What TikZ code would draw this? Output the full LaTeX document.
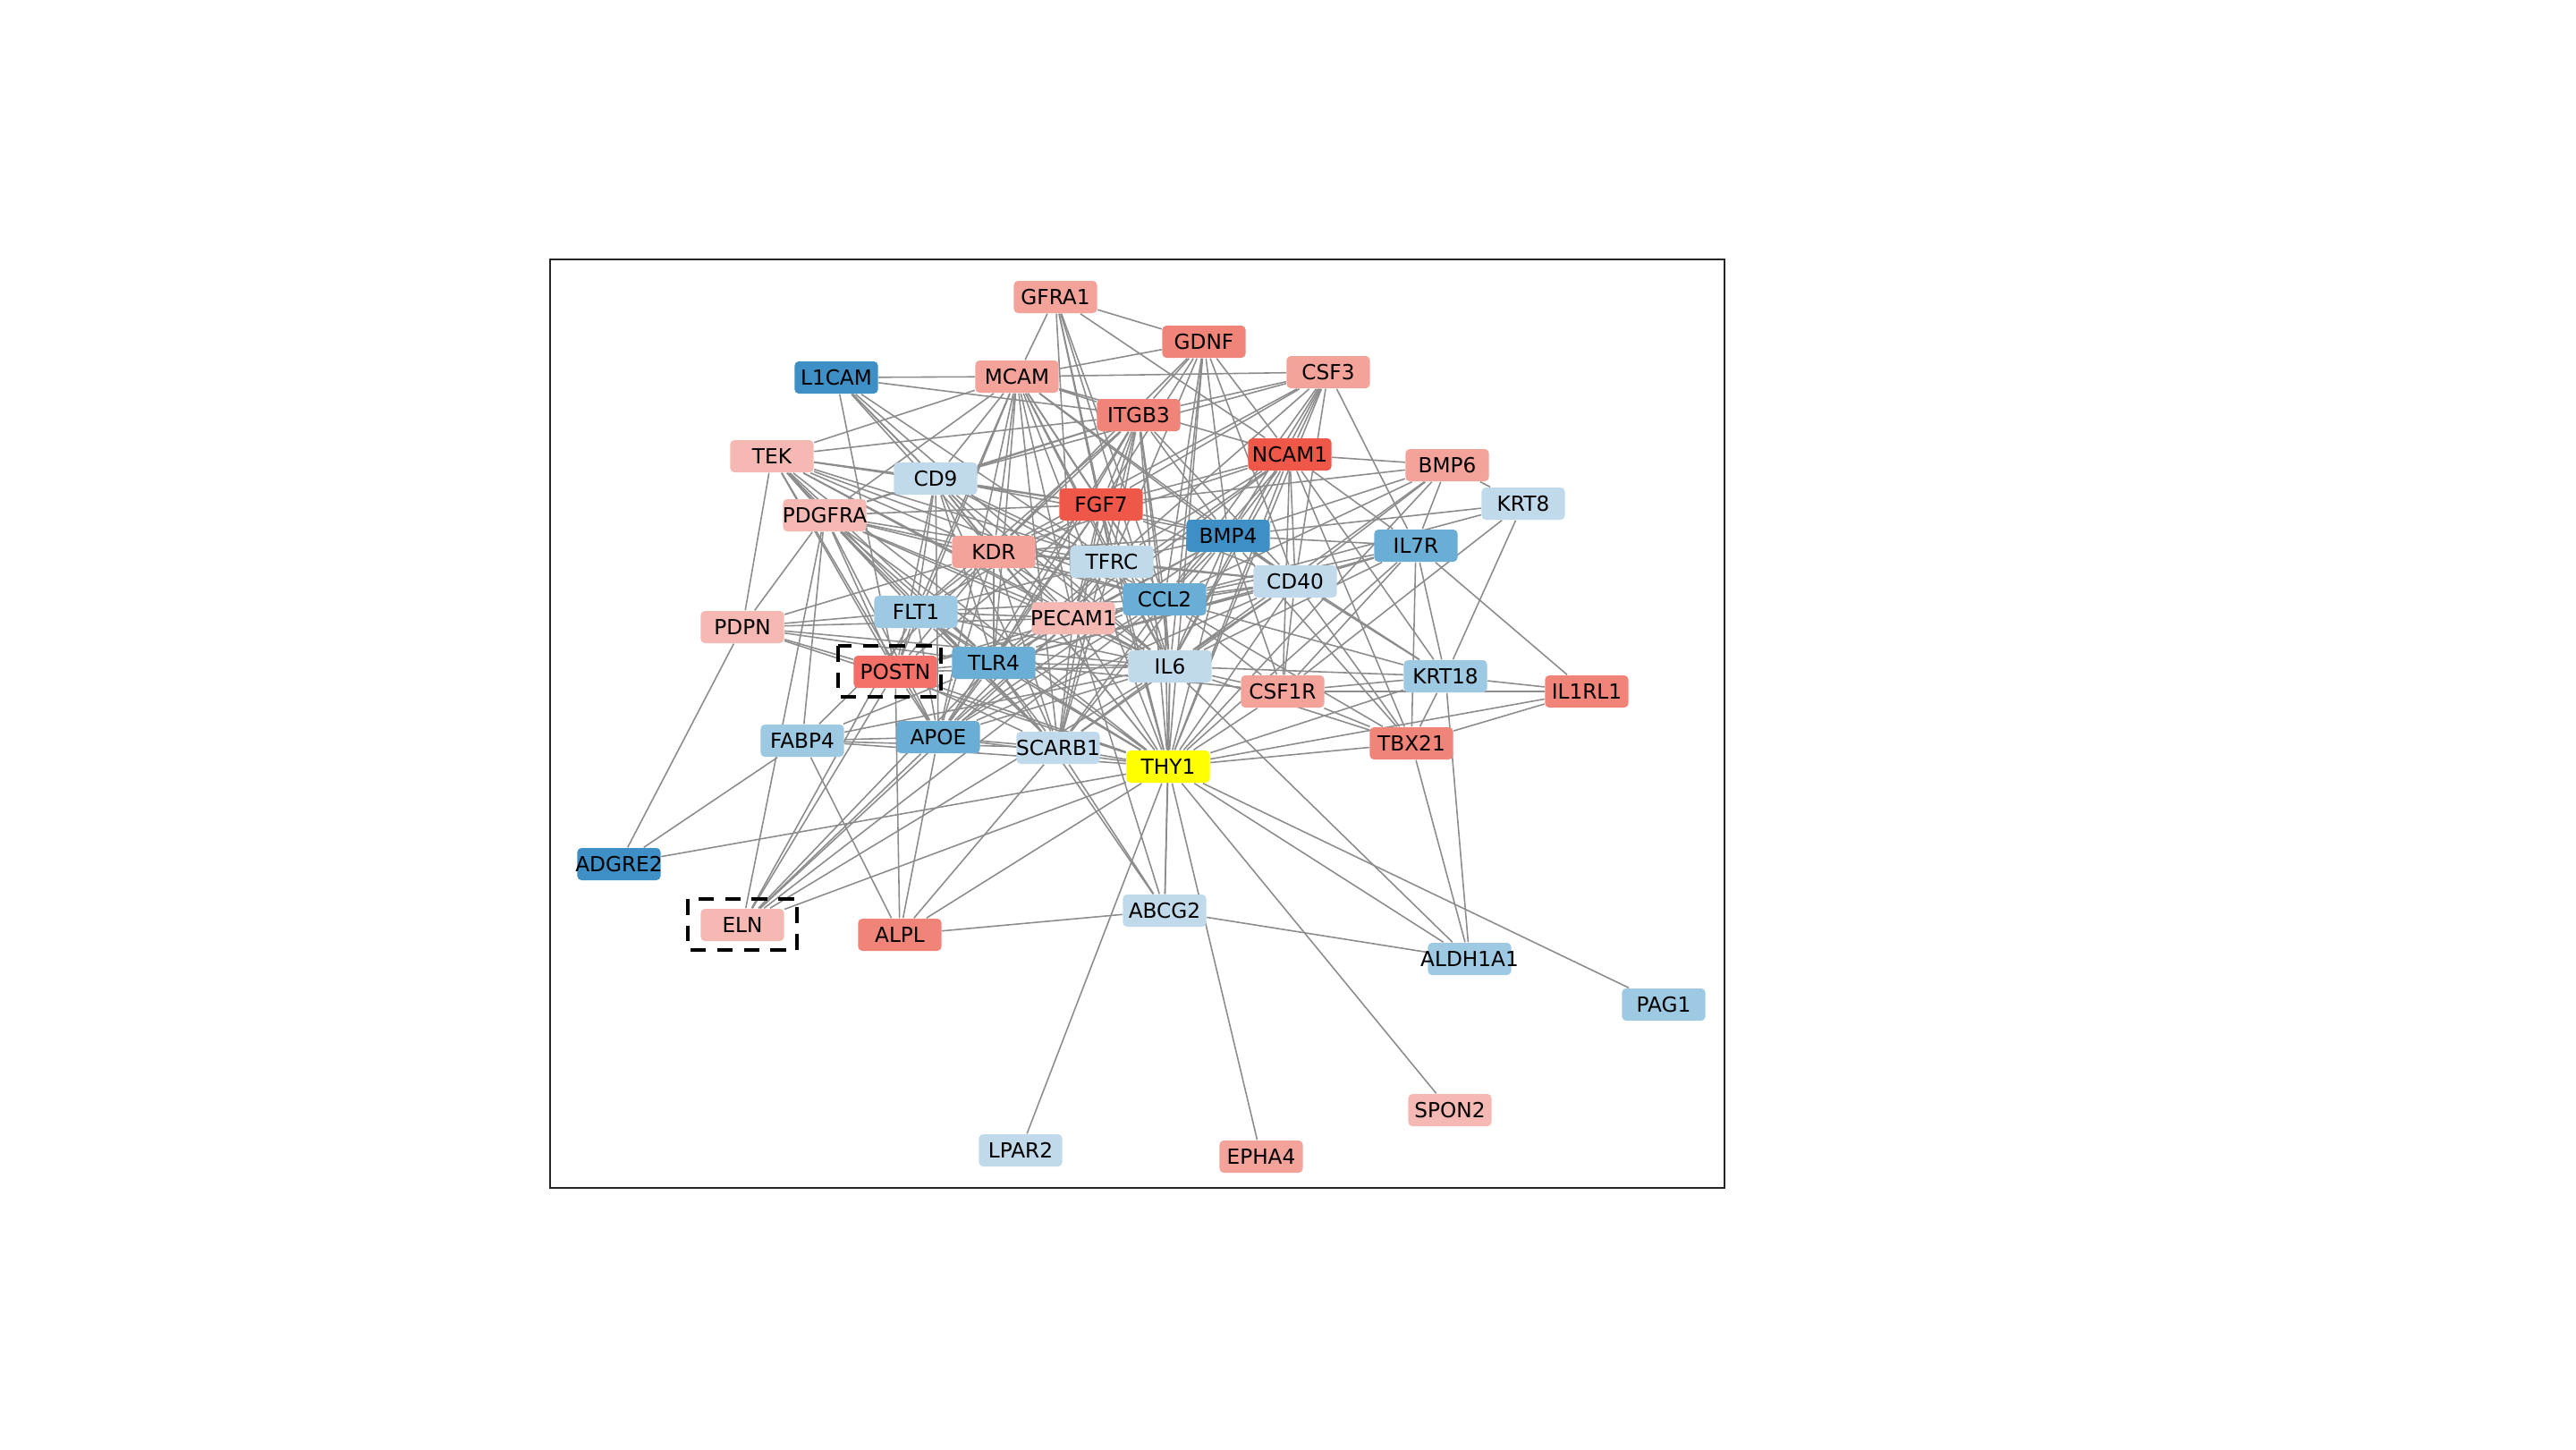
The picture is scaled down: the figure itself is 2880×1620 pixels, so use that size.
\documentclass[tikz,border=0pt]{standalone}
\usepackage{fontspec}
\setmainfont{DejaVu Sans}
\usetikzlibrary{backgrounds}
\definecolor{edgegray}{RGB}{140,140,140}
\definecolor{hubyellow}{HTML}{FFFF00}
\definecolor{redA}{HTML}{EF5849}
\definecolor{redB}{HTML}{F08479}
\definecolor{redC}{HTML}{F4A39B}
\definecolor{redD}{HTML}{F6B8B2}
\definecolor{blueA}{HTML}{3D8FC5}
\definecolor{blueB}{HTML}{6AADD5}
\definecolor{blueC}{HTML}{9DC9E2}
\definecolor{blueD}{HTML}{C1DAEB}
\newcommand{\gname}[1]{\makebox[0pt]{#1}}
\begin{document}
\begin{tikzpicture}
[x=0.01cm,y=-0.01cm,
 gene/.style={rectangle,rounded corners=1.3pt,minimum width=0.93cm,minimum height=0.36cm,
   inner sep=0pt,font=\fontsize{6.6}{7}\selectfont},
 link/.style={draw=edgegray,line width=0.45pt},
 hilite/.style={draw=black,line width=0.9pt,dash pattern=on 5pt off 3.5pt}]
\useasboundingbox (0,0) rectangle (2880,1620);
\draw[line width=0.6pt,black!85] (615,290) rectangle (1928,1328);
% genes
\node[gene,fill=redC] (gfra) at (1180,332) {\gname{GFRA1}};
\node[gene,fill=redB] (gdnf) at (1346,382) {\gname{GDNF}};
\node[gene,fill=blueA] (lcam) at (935,422) {\gname{L1CAM}};
\node[gene,fill=redC] (mcam) at (1137,421) {\gname{MCAM}};
\node[gene,fill=redC] (csf3) at (1485,416) {\gname{CSF3}};
\node[gene,fill=redB] (itgb) at (1273,464) {\gname{ITGB3}};
\node[gene,fill=redD] (tek) at (863,510) {\gname{TEK}};
\node[gene,fill=redA] (ncam) at (1442,508) {\gname{NCAM1}};
\node[gene,fill=redC] (bmp6) at (1618,520) {\gname{BMP6}};
\node[gene,fill=blueD] (cd9) at (1046,535) {\gname{CD9}};
\node[gene,fill=blueD] (krt8) at (1703,563) {\gname{KRT8}};
\node[gene,fill=redA] (fgf7) at (1231,564) {\gname{FGF7}};
\node[gene,fill=redD] (pdgf) at (922,576) {\gname{PDGFRA}};
\node[gene,fill=blueA] (bmp4) at (1373,599) {\gname{BMP4}};
\node[gene,fill=blueB] (il7r) at (1583,610) {\gname{IL7R}};
\node[gene,fill=redC] (kdr) at (1111,617) {\gname{KDR}};
\node[gene,fill=blueD] (tfrc) at (1243,628) {\gname{TFRC}};
\node[gene,fill=blueD] (cd40) at (1448,650) {\gname{CD40}};
\node[gene,fill=blueB] (ccl2) at (1302,670) {\gname{CCL2}};
\node[gene,fill=blueC] (flt1) at (1024,684) {\gname{FLT1}};
\node[gene,fill=redD] (pecam) at (1200,691) {\gname{PECAM1}};
\node[gene,fill=redD] (pdpn) at (830,701) {\gname{PDPN}};
\node[gene,fill=blueB] (tlr4) at (1111,741) {\gname{TLR4}};
\node[gene,fill=redB!85!red] (postn) at (1001,751) {\gname{POSTN}};
\node[gene,fill=blueD] (il6) at (1308,745) {\gname{IL6}};
\node[gene,fill=blueC] (krt18) at (1616,756) {\gname{KRT18}};
\node[gene,fill=redC] (csf1r) at (1434,773) {\gname{CSF1R}};
\node[gene,fill=redB] (il1rl) at (1774,773) {\gname{IL1RL1}};
\node[gene,fill=blueC] (fabp) at (897,828) {\gname{FABP4}};
\node[gene,fill=blueB] (apoe) at (1049,824) {\gname{APOE}};
\node[gene,fill=blueD] (scarb) at (1183,836) {\gname{SCARB1}};
\node[gene,fill=redB] (tbx) at (1578,831) {\gname{TBX21}};
\node[gene,fill=hubyellow] (thy) at (1306,857) {\gname{THY1}};
\node[gene,fill=blueA] (adgre) at (692,966) {\gname{ADGRE2}};
\node[gene,fill=redD] (eln) at (830,1034) {\gname{ELN}};
\node[gene,fill=redB] (alpl) at (1006,1045) {\gname{ALPL}};
\node[gene,fill=blueD] (abcg) at (1302,1018) {\gname{ABCG2}};
\node[gene,fill=blueC] (aldh) at (1643,1072) {\gname{ALDH1A1}};
\node[gene,fill=blueC] (pag) at (1860,1123) {\gname{PAG1}};
\node[gene,fill=redD] (spon) at (1621,1241) {\gname{SPON2}};
\node[gene,fill=blueD] (lpar) at (1141,1286) {\gname{LPAR2}};
\node[gene,fill=redC] (epha) at (1410,1293) {\gname{EPHA4}};
% dashed marks
\draw[hilite] (937,722) rectangle (1052,779);
\draw[hilite] (769,1005) rectangle (891,1062);
% interactions
\begin{pgfonlayer}{background}
\draw[link] (thy)--(gdnf) (thy)--(csf3) (thy)--(itgb) (thy)--(ncam) (thy)--(fgf7) (thy)--(bmp4)
 (thy)--(bmp6) (thy)--(il7r) (thy)--(kdr) (thy)--(tfrc) (thy)--(cd40) (thy)--(ccl2) (thy)--(flt1)
 (thy)--(pecam) (thy)--(tlr4) (thy)--(postn) (thy)--(il6) (thy)--(krt18) (thy)--(csf1r) (thy)--(il1rl)
 (thy)--(apoe) (thy)--(scarb) (thy)--(tbx) (thy)--(adgre) (thy)--(eln) (thy)--(alpl) (thy)--(abcg)
 (thy)--(aldh) (thy)--(pag) (thy)--(spon) (thy)--(lpar) (thy)--(epha) (thy)--(pdgf) (thy)--(tek)
 (thy)--(cd9) (thy)--(mcam) (thy)--(fabp) (thy)--(pdpn);
\draw[link] (il6)--(gfra) (il6)--(gdnf) (il6)--(csf3) (il6)--(mcam) (il6)--(itgb) (il6)--(ncam)
 (il6)--(fgf7) (il6)--(bmp4) (il6)--(bmp6) (il6)--(il7r) (il6)--(kdr) (il6)--(tfrc) (il6)--(cd40)
 (il6)--(ccl2) (il6)--(flt1) (il6)--(pecam) (il6)--(tlr4) (il6)--(postn) (il6)--(krt18) (il6)--(csf1r)
 (il6)--(tbx) (il6)--(apoe) (il6)--(scarb) (il6)--(eln) (il6)--(abcg) (il6)--(aldh) (il6)--(cd9)
 (il6)--(tek) (il6)--(pdpn) (il6)--(lcam) (il6)--(fabp) (il6)--(pdgf);
\draw[link] (ccl2)--(gfra) (ccl2)--(gdnf) (ccl2)--(csf3) (ccl2)--(mcam) (ccl2)--(itgb) (ccl2)--(ncam)
 (ccl2)--(fgf7) (ccl2)--(bmp4) (ccl2)--(bmp6) (ccl2)--(il7r) (ccl2)--(kdr) (ccl2)--(tfrc) (ccl2)--(cd40)
 (ccl2)--(flt1) (ccl2)--(pecam) (ccl2)--(tlr4) (ccl2)--(postn) (ccl2)--(krt18) (ccl2)--(csf1r)
 (ccl2)--(tbx) (ccl2)--(apoe) (ccl2)--(scarb) (ccl2)--(eln) (ccl2)--(cd9) (ccl2)--(tek) (ccl2)--(pdgf)
 (ccl2)--(krt8);
\draw[link] (tlr4)--(mcam) (tlr4)--(itgb) (tlr4)--(fgf7) (tlr4)--(bmp4) (tlr4)--(kdr) (tlr4)--(tfrc)
 (tlr4)--(cd40) (tlr4)--(flt1) (tlr4)--(pecam) (tlr4)--(postn) (tlr4)--(csf1r) (tlr4)--(apoe)
 (tlr4)--(scarb) (tlr4)--(eln) (tlr4)--(abcg) (tlr4)--(cd9) (tlr4)--(tek) (tlr4)--(pdgf) (tlr4)--(pdpn)
 (tlr4)--(fabp) (tlr4)--(ncam) (tlr4)--(il7r);
\draw[link] (pecam)--(gfra) (pecam)--(mcam) (pecam)--(itgb) (pecam)--(fgf7) (pecam)--(kdr) (pecam)--(tfrc)
 (pecam)--(flt1) (pecam)--(postn) (pecam)--(apoe) (pecam)--(scarb) (pecam)--(eln) (pecam)--(cd9)
 (pecam)--(tek) (pecam)--(pdgf) (pecam)--(pdpn) (pecam)--(lcam) (pecam)--(abcg) (pecam)--(bmp4)
 (pecam)--(cd40) (pecam)--(ncam);
\draw[link] (kdr)--(mcam) (kdr)--(itgb) (kdr)--(fgf7) (kdr)--(tfrc) (kdr)--(flt1) (kdr)--(postn)
 (kdr)--(apoe) (kdr)--(scarb) (kdr)--(cd9) (kdr)--(tek) (kdr)--(pdgf) (kdr)--(pdpn) (kdr)--(lcam)
 (kdr)--(fabp) (kdr)--(bmp4) (kdr)--(cd40) (kdr)--(gdnf) (kdr)--(csf3) (kdr)--(ncam);
\draw[link] (fgf7)--(gfra) (fgf7)--(gdnf) (fgf7)--(csf3) (fgf7)--(mcam) (fgf7)--(itgb) (fgf7)--(ncam)
 (fgf7)--(bmp4) (fgf7)--(tfrc) (fgf7)--(flt1) (fgf7)--(postn) (fgf7)--(apoe) (fgf7)--(scarb)
 (fgf7)--(cd9) (fgf7)--(tek) (fgf7)--(pdgf) (fgf7)--(cd40) (fgf7)--(bmp6);
\draw[link] (tfrc)--(gfra) (tfrc)--(gdnf) (tfrc)--(csf3) (tfrc)--(mcam) (tfrc)--(itgb) (tfrc)--(ncam)
 (tfrc)--(bmp4) (tfrc)--(flt1) (tfrc)--(apoe) (tfrc)--(scarb) (tfrc)--(cd9) (tfrc)--(tek) (tfrc)--(pdgf)
 (tfrc)--(lcam) (tfrc)--(cd40);
\draw[link] (cd40)--(gdnf) (cd40)--(csf3) (cd40)--(mcam) (cd40)--(itgb) (cd40)--(ncam) (cd40)--(bmp4)
 (cd40)--(bmp6) (cd40)--(il7r) (cd40)--(krt18) (cd40)--(csf1r) (cd40)--(tbx)
 (cd40)--(scarb) (cd40)--(apoe);
\draw[link] (bmp4)--(csf3) (bmp4)--(mcam) (bmp4)--(itgb) (bmp4)--(ncam) (bmp4)--(bmp6) (bmp4)--(krt8)
 (bmp4)--(il7r) (bmp4)--(krt18) (bmp4)--(csf1r) (bmp4)--(tbx) (bmp4)--(scarb) (bmp4)--(apoe)
 (bmp4)--(cd9) (bmp4)--(gdnf);
\draw[link] (flt1)--(mcam) (flt1)--(itgb) (flt1)--(postn) (flt1)--(apoe) (flt1)--(scarb) (flt1)--(eln)
 (flt1)--(cd9) (flt1)--(tek) (flt1)--(pdgf) (flt1)--(pdpn);
\draw[link] (postn)--(lcam) (postn)--(pdgf) (postn)--(pdpn) (postn)--(tek) (postn)--(apoe) (postn)--(alpl)
 (postn)--(eln) (postn)--(scarb) (postn)--(cd9) (postn)--(mcam);
\draw[link] (apoe)--(fabp) (apoe)--(scarb) (apoe)--(alpl) (apoe)--(eln) (apoe)--(pdgf) (apoe)--(tek)
 (apoe)--(cd9) (apoe)--(mcam) (apoe)--(itgb);
\draw[link] (scarb)--(fabp) (scarb)--(alpl) (scarb)--(abcg) (scarb)--(pdgf) (scarb)--(tek) (scarb)--(cd9)
 (scarb)--(mcam) (scarb)--(itgb);
\draw[link] (cd9)--(lcam) (cd9)--(mcam) (cd9)--(tek) (cd9)--(pdgf) (cd9)--(itgb) (cd9)--(csf3);
\draw[link] (pdgf)--(tek) (pdgf)--(mcam) (pdgf)--(pdpn) (pdgf)--(fabp) (pdgf)--(eln) (pdgf)--(itgb);
\draw[link] (tek)--(mcam) (tek)--(pdpn) (tek)--(itgb);
\draw[link] (lcam)--(mcam) (lcam)--(itgb);
\draw[link] (mcam)--(gfra) (mcam)--(gdnf) (mcam)--(itgb) (mcam)--(csf3) (mcam)--(ncam);
\draw[link] (gfra)--(gdnf) (gfra)--(ncam) (gdnf)--(itgb) (gdnf)--(ncam);
\draw[link] (csf3)--(itgb) (csf3)--(ncam) (csf3)--(il7r);
\draw[link] (ncam)--(bmp6) (ncam)--(il7r) (ncam)--(krt18) (ncam)--(csf1r) (ncam)--(tbx);
\draw[link] (bmp6)--(krt8) (bmp6)--(il7r);
\draw[link] (krt8)--(krt18) (krt8)--(csf1r);
\draw[link] (il7r)--(krt18) (il7r)--(il1rl) (il7r)--(csf1r) (il7r)--(tbx);
\draw[link] (krt18)--(il1rl) (krt18)--(tbx) (krt18)--(csf1r) (krt18)--(aldh);
\draw[link] (il1rl)--(tbx) (il1rl)--(csf1r) (tbx)--(aldh) (tbx)--(csf1r);
\draw[link] (abcg)--(alpl) (abcg)--(aldh) (alpl)--(fabp);
\draw[link] (adgre)--(pdpn) (adgre)--(fabp);
\end{pgfonlayer}
\end{tikzpicture}
\end{document}
